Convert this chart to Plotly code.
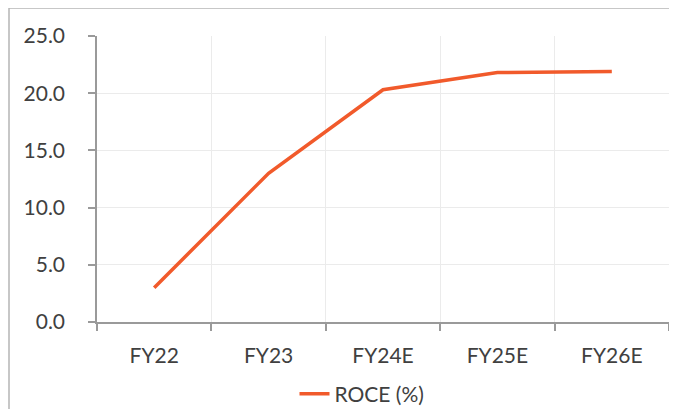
import plotly.graph_objects as go

categories = ["FY22", "FY23", "FY24E", "FY25E", "FY26E"]
roce = [3.0, 13.0, 20.3, 21.8, 21.9]
series_name = "ROCE (%)"

# page body has an 8px margin, so the figure starts at (8, 8) in the window
OFF = 8
W, H = 677 - OFF, 409 - OFF
ml, mr, mt, mb = 97 - OFF, 8, 36 - OFF, 87
pw, ph = W - ml - mr, H - mt - mb
plot_bottom = 322  # window px

fig = go.Figure()
fig.add_trace(go.Scatter(
    x=categories, y=roce, mode="lines", name=series_name,
    line=dict(color="#F15A2B", width=3.5),
))

font = dict(family="Lato, Carlito, sans-serif", size=21, color="#404040")

fig.update_layout(
    width=W, height=H,
    margin=dict(l=ml, r=mr, t=mt, b=mb),
    paper_bgcolor="white", plot_bgcolor="white",
    font=font,
    showlegend=True,
    legend=dict(orientation="h", x=(362 - 97) / pw, xanchor="center",
                yref="container", y=(H - (394 - OFF)) / H, yanchor="middle",
                font=font, bgcolor="rgba(0,0,0,0)",
                tracegroupgap=0, borderwidth=0),
    xaxis=dict(
        type="category", tickson="boundaries",
        showgrid=True, gridcolor="#EBEBEB", gridwidth=1,
        showline=True, linecolor="#9A9A9A", linewidth=1.5,
        ticks="outside", ticklen=7, tickcolor="#9A9A9A", tickwidth=1.5,
        ticklabelstandoff=14,
        range=[-0.5, 4.5],
        zeroline=False, automargin=False,
    ),
    yaxis=dict(
        range=[0, 25], dtick=5, tickformat=".1f",
        showgrid=True, gridcolor="#EBEBEB", gridwidth=1,
        showline=True, linecolor="#9A9A9A", linewidth=1.5,
        ticks="outside", ticklen=7, tickcolor="#9A9A9A", tickwidth=1.5,
        ticklabelstandoff=19,
        zeroline=False, automargin=False,
    ),
    shapes=[dict(
        type="rect", xref="paper", yref="paper",
        x0=(9 - 97) / pw, x1=1.2,
        y0=-0.5, y1=(plot_bottom - 8) / ph,
        line=dict(color="#B5B5B5", width=1.5), layer="below",
    )],
)

fig.write_html("out.html")
